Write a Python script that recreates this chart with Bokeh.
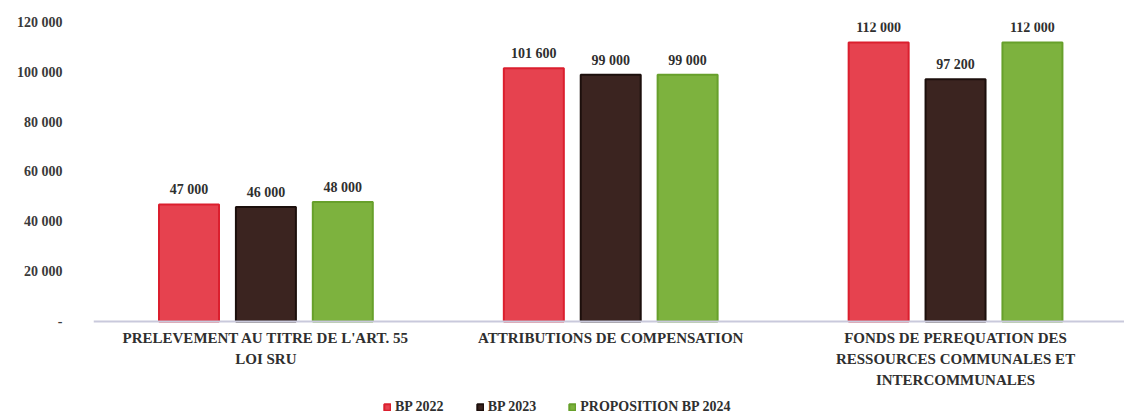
from bokeh.plotting import figure
from bokeh.models import ColumnDataSource, Range1d, FixedTicker, Legend, LegendItem
from bokeh.core.properties import value
from bokeh.embed import file_html
from bokeh.resources import INLINE

categories = ["PRELEVEMENT AU TITRE DE L'ART. 55\nLOI SRU",
              "ATTRIBUTIONS DE COMPENSATION",
              "FONDS DE PEREQUATION DES\nRESSOURCES COMMUNALES ET\nINTERCOMMUNALES"]
series_names = ["BP 2022", "BP 2023", "PROPOSITION BP 2024"]
bp2022 = [47000, 101600, 112000]
bp2023 = [46000, 99000, 97200]
bp2024 = [48000, 99000, 112000]
y_ticks = [0, 20000, 40000, 60000, 80000, 100000, 120000]
y_tick_labels = ["-", "20 000", "40 000", "60 000", "80 000", "100 000", "120 000"]

fills = ["#e6424f", "#3b2420", "#7db23e"]
edges = ["#db1f2e", "#1c0f0c", "#67a02b"]
FONT = "Liberation Serif"
TXT = "#2f2f2f"

# frame spans full height below the top margin; the zero line sits at 321 px
p = figure(frame_width=1031, frame_height=396, output_backend="svg", toolbar_location=None,
           x_range=Range1d(0, 2.99), y_range=Range1d(-38930, 120000),
           min_border_left=93, min_border_right=0, min_border_top=22, min_border_bottom=0)
p.outline_line_color = None
p.xgrid.visible = False
p.ygrid.visible = False
p.background_fill_color = "white"

centers = [i + 0.5 for i in range(len(categories))]
offsets = [-0.223, 0.0, 0.223]
bar_w = 0.174
renderers = []
for k, vals in enumerate([bp2022, bp2023, bp2024]):
    xs = [c + offsets[k] for c in centers]
    labels = [f"{v:,}".replace(",", " ") for v in vals]
    src = ColumnDataSource(dict(x=xs, top=vals, lab=labels))
    r = p.vbar(x="x", top="top", width=bar_w, source=src, fill_color=fills[k],
               line_color=edges[k], line_width=2)
    renderers.append(r)
    p.text(x="x", y="top", text="lab", source=src, text_align="center", text_baseline="bottom",
           y_offset=-7, text_font=value(FONT), text_font_style="bold", text_font_size="14px",
           text_color=TXT)

p.xaxis.fixed_location = 0
p.xaxis.ticker = FixedTicker(ticks=centers)
p.xaxis.major_label_overrides = {c: lab for c, lab in zip(centers, categories)}
p.xaxis.major_tick_line_color = None
p.xaxis.minor_tick_line_color = None
p.xaxis.major_tick_out = 0
p.xaxis.major_tick_in = 0
p.xaxis.axis_line_color = "#c9c9dc"
p.xaxis.axis_line_width = 2
p.xaxis.major_label_text_font = FONT
p.xaxis.major_label_text_font_style = "bold"
p.xaxis.major_label_text_font_size = "15px"
p.xaxis.major_label_text_color = TXT
p.xaxis.major_label_text_line_height = 1.3
p.xaxis.major_label_standoff = 9

p.yaxis.ticker = FixedTicker(ticks=y_ticks)
p.yaxis.major_label_overrides = {t: lab for t, lab in zip(y_ticks, y_tick_labels)}
p.yaxis.axis_line_color = None
p.yaxis.major_tick_line_color = None
p.yaxis.minor_tick_line_color = None
p.yaxis.major_label_text_font = FONT
p.yaxis.major_label_text_font_style = "bold"
p.yaxis.major_label_text_font_size = "14px"
p.yaxis.major_label_text_color = "#3a3a3a"
p.yaxis.major_label_standoff = 25

legend = Legend(items=[LegendItem(label=n, renderers=[r]) for n, r in zip(series_names, renderers)],
                orientation="horizontal", location=(290, 3), border_line_color=None,
                background_fill_alpha=0,
                label_text_font=FONT, label_text_font_style="bold", label_text_font_size="14px",
                label_text_color=TXT, glyph_width=8, glyph_height=8, label_standoff=4,
                label_height=14, spacing=32, padding=0, margin=0)
p.add_layout(legend, "center")

open("out.html", "w").write(file_html(p, INLINE))
